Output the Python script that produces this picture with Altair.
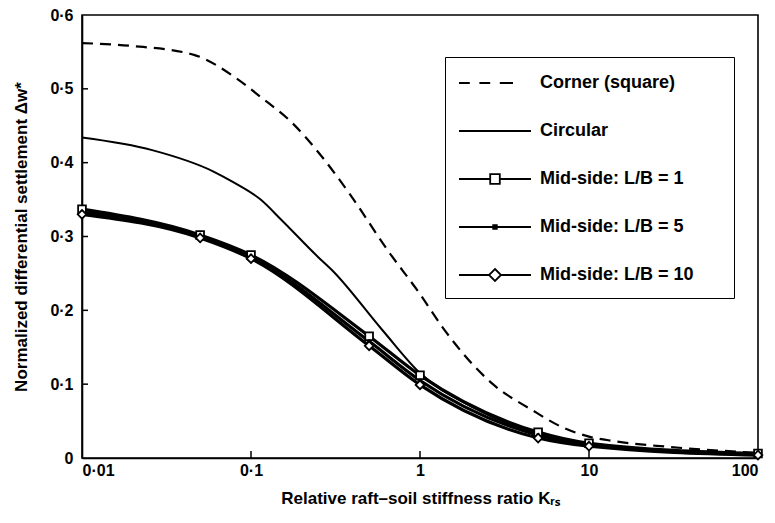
import altair as alt
import pandas as pd

# ---- data ----
series_names = ["Corner (square)", "Circular", "Mid-side: L/B = 1",
                "Mid-side: L/B = 5", "Mid-side: L/B = 10"]

corner_x = [0.01, 0.02, 0.046, 0.08, 0.114, 0.175, 0.263, 0.38, 0.65, 1.0,
            1.35, 2.7, 4.6, 6.9, 10, 13, 30, 100]
corner_y = [0.562, 0.558, 0.546, 0.516, 0.489, 0.454, 0.408, 0.359, 0.28, 0.222,
            0.178, 0.10, 0.065, 0.042, 0.029, 0.024, 0.015, 0.007]

circ_x = [0.01, 0.026, 0.06, 0.078, 0.114, 0.152, 0.25, 0.30, 0.6, 1.0,
          2.0, 5.0, 10, 100]
circ_y = [0.434, 0.417, 0.388, 0.374, 0.35, 0.322, 0.272, 0.255, 0.173, 0.115,
          0.07, 0.033, 0.02, 0.005]

mid_x = [0.01, 0.05, 0.1, 0.5, 1, 5, 10, 100]
mid1_y = [0.337, 0.302, 0.275, 0.165, 0.112, 0.035, 0.020, 0.006]
mid5_y = [0.333, 0.300, 0.272, 0.158, 0.105, 0.031, 0.018, 0.005]
mid10_y = [0.330, 0.298, 0.270, 0.152, 0.099, 0.027, 0.016, 0.004]

x_tick_values = [0.01, 0.1, 1, 10, 100]
x_inner_ticks = [0.1, 1, 10]
y_tick_values = [0, 0.1, 0.2, 0.3, 0.4, 0.5, 0.6]
y_inner_ticks = [0.1, 0.2, 0.3, 0.4, 0.5]

rows = []
for name, xs, ys in zip(series_names,
                        [corner_x, circ_x, mid_x, mid_x, mid_x],
                        [corner_y, circ_y, mid1_y, mid5_y, mid10_y]):
    rows += [{"series": name, "K": a, "dw": b} for a, b in zip(xs, ys)]
df = pd.DataFrame(rows)

FONT = "Liberation Sans"
W, H = 676, 443

x_enc = alt.X("K:Q",
              scale=alt.Scale(type="log", domain=[0.01, 100]),
              axis=alt.Axis(values=x_tick_values, ticks=False, grid=False,
                            labelExpr="replace(format(datum.value, '~g'), '.', '·')",
                            title="Relative raft–soil stiffness ratio Kᵣₛ",
                            labelPadding=4, titlePadding=12))
y_enc = alt.Y("dw:Q",
              scale=alt.Scale(domain=[0, 0.6], nice=False),
              axis=alt.Axis(values=y_tick_values, ticks=False, grid=False,
                            labelExpr="datum.value == 0 ? '0' : replace(format(datum.value, '.1f'), '.', '·')",
                            title="Normalized differential settlement Δw*",
                            labelPadding=9, titlePadding=19))

base = alt.Chart(df)


def sel(i):
    return base.transform_filter(alt.datum.series == series_names[i])


corner = sel(0).mark_line(color="black", interpolate="monotone",
                          strokeDash=[11, 7], strokeWidth=2.2).encode(x=x_enc, y=y_enc)
circ = sel(1).mark_line(color="black", interpolate="monotone",
                        strokeWidth=2.0).encode(x="K:Q", y="dw:Q")
mids = base.transform_filter(
    alt.FieldOneOfPredicate(field="series", oneOf=series_names[2:])
).mark_line(color="black", interpolate="monotone", strokeWidth=3.2).encode(
    x="K:Q", y="dw:Q", detail="series:N")

sq = sel(2).mark_point(
    shape="square", filled=True, fill="white", stroke="black", strokeWidth=1.8,
    size=60, opacity=1).encode(x="K:Q", y="dw:Q")
dot = sel(3).mark_circle(color="black", size=16, opacity=1).encode(x="K:Q", y="dw:Q")
dia = sel(4).mark_point(
    shape="diamond", filled=True, fill="white", stroke="black", strokeWidth=1.8,
    size=75, opacity=1).encode(x="K:Q", y="dw:Q")

# legend symbols: short line with a marker in the middle
# (the trailing move-to widens the legend box to the right, as in the original)
legend_paths = [
    "M-3,0H-2.1M-1.3,0H-0.4M0.4,0H1.5M18.5,0",
    "M-3,0H3",
    "M-3,0H-0.4M0.4,0H3M-0.4,-0.4H0.4V0.4H-0.4Z",
    "M-3,0H3M-0.15,-0.15H0.15V0.15H-0.15Z",
    "M-3,0H-0.5M0.5,0H3M0,-0.5L0.5,0L0,0.5L-0.5,0Z",
]
legend_layer = base.transform_filter("false").mark_point(
    color="black", size=576, strokeWidth=1.8, opacity=1).encode(
    x="K:Q", y="dw:Q",
    shape=alt.Shape("series:N",
                    scale=alt.Scale(domain=series_names, range=legend_paths),
                    legend=alt.Legend(title=None, orient="none", legendX=363, legendY=42,
                                      strokeColor="black", fillColor="white",
                                      padding=13, rowPadding=26,
                                      symbolOffset=24, labelOffset=32,
                                      symbolSize=576, symbolStrokeWidth=1.8,
                                      symbolStrokeColor="black", symbolFillColor="white",
                                      symbolOpacity=1,
                                      labelFont=FONT, labelFontSize=18,
                                      labelFontWeight="bold", labelColor="black",
                                      labelLimit=0)),
)

yt = alt.Chart(pd.DataFrame({"dw": y_inner_ticks})).mark_rule(
    color="black", strokeWidth=1.5).encode(
    y="dw:Q", x=alt.value(0), x2=alt.value(6))
xt = alt.Chart(pd.DataFrame({"K": x_inner_ticks})).mark_rule(
    color="black", strokeWidth=1.5).encode(
    x="K:Q", y=alt.value(H), y2=alt.value(H - 7))

chart = alt.layer(corner, circ, mids, sq, dot, dia, yt, xt, legend_layer).properties(
    width=W, height=H,
    autosize=alt.AutoSizeParams(type="none"),
    padding={"left": 82, "top": 15, "right": 17, "bottom": 65},
    background="white",
).configure_view(
    stroke="black", strokeWidth=1.6
).configure_axis(
    domainColor="black", domainWidth=1.6,
    labelFont=FONT, labelFontSize=16, labelFontWeight="bold", labelColor="black",
    titleFont=FONT, titleFontSize=17, titleFontWeight="bold", titleColor="black",
)

chart.save("out.html", embed_options={"renderer": "svg", "actions": False})
